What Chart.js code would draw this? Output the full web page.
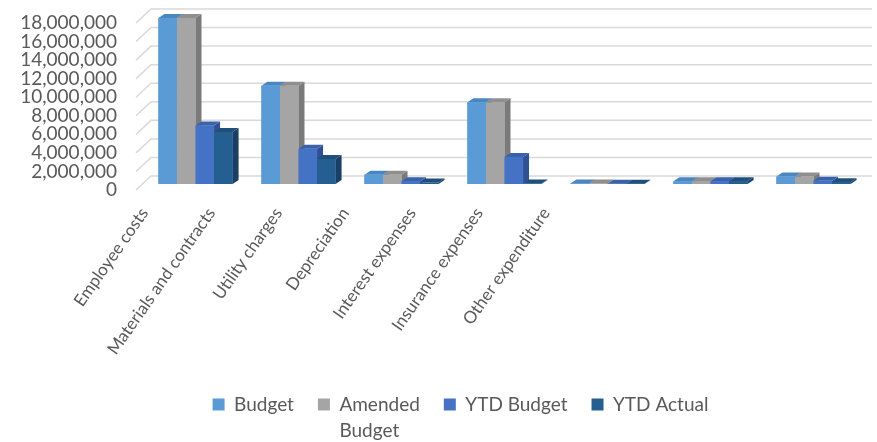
<!DOCTYPE html>
<html>
<head>
<meta charset="utf-8">
<script src="https://cdn.jsdelivr.net/npm/chart.js@4"></script>
<style>
html, body { margin: 0; padding: 0; background: #fff; }
#wrap { width: 877px; height: 442px; }
</style>
</head>
<body>
<div id="wrap"><canvas id="expenseChart"></canvas></div>
<script>
// Categories and series
var categories = ['Employee costs', 'Materials and contracts', 'Utility charges', 'Depreciation',
    'Interest expenses', 'Insurance expenses', 'Other expenditure'];
var seriesNames = ['Budget', 'Amended Budget', 'YTD Budget', 'YTD Actual'];
var legendWrap = { 'Amended Budget': ['Amended', 'Budget'] };
var budget = [17900000, 10600000, 1000000, 8800000, 60000, 300000, 800000];
var amendedBudget = [17900000, 10600000, 1000000, 8800000, 60000, 300000, 800000];
var ytdBudget = [6300000, 3800000, 300000, 2900000, 40000, 300000, 350000];
var ytdActual = [5600000, 2700000, 150000, 50000, 40000, 300000, 200000];
var yMax = 18000000;
var yStep = 2000000;

// front / top / side shades for the fake 3D look
var shades = [
    { front: '#5b9bd5', top: '#4a86c0', side: '#3f74a8' },
    { front: '#a5a5a5', top: '#8f8f8f', side: '#7a7a7a' },
    { front: '#4472c4', top: '#3a62aa', side: '#2f5194' },
    { front: '#255e91', top: '#1f4f7b', side: '#193f63' }
];
var depthX = 6, depthY = 4;
var textColor = '#595959';
var legendFontSize = 19;

Chart.defaults.font.family = 'Lato';

// back wall gridlines with the little diagonal on the left
var wallGrid = {
    id: 'wallGrid',
    beforeDatasetsDraw: function(chart) {
        var y = chart.scales.y, a = chart.chartArea, ctx = chart.ctx;
        ctx.save();
        ctx.strokeStyle = '#d9d9d9';
        ctx.lineWidth = 1.5;
        y.ticks.forEach(function(t) {
            var py = y.getPixelForValue(t.value);
            ctx.beginPath();
            ctx.moveTo(a.left - 8, py + 6);
            ctx.lineTo(a.left + 7, py - 8);
            ctx.lineTo(a.right + 7, py - 8);
            ctx.stroke();
        });
        ctx.restore();
    }
};

// draw top + side faces, then repaint the front so neighbours overlap right
var bars3d = {
    id: 'bars3d',
    afterDatasetsDraw: function(chart) {
        var ctx = chart.ctx;
        var metas = chart.getSortedVisibleDatasetMetas();
        ctx.save();
        for (var i = 0; i < categories.length; i++) {
            metas.forEach(function(meta) {
                var bar = meta.data[i];
                var c = shades[meta.index];
                var l = bar.x - bar.width / 2, r = bar.x + bar.width / 2;
                var t = bar.y, b = bar.base;
                ctx.fillStyle = c.side;
                ctx.beginPath();
                ctx.moveTo(r, t);
                ctx.lineTo(r + depthX, t - depthY);
                ctx.lineTo(r + depthX, b - depthY);
                ctx.lineTo(r, b);
                ctx.closePath();
                ctx.fill();
                ctx.fillStyle = c.top;
                ctx.beginPath();
                ctx.moveTo(l, t);
                ctx.lineTo(l + depthX, t - depthY);
                ctx.lineTo(r + depthX, t - depthY);
                ctx.lineTo(r, t);
                ctx.closePath();
                ctx.fill();
                ctx.fillStyle = c.front;
                ctx.fillRect(l, t, r - l, b - t);
            });
        }
        ctx.restore();
    }
};

// the category labels sit closer together than the bars (3D projection);
// the y labels may use the space left of the axis box
var squeezeLabels = {
    id: 'squeezeLabels',
    afterLayout: function(chart) {
        var s = chart.scales.x2, a = chart.chartArea;
        var w = (a.right - a.left) * 0.65;
        s.left = a.left - 33;
        s.right = s.left + w;
        s.width = w;
        s.configure();
        s._labelItems = null;
        chart.scales.y.left = 0;
        chart.scales.y._labelItems = null;
    }
};

// second line of a wrapped legend entry
var legendSecondLine = {
    id: 'legendSecondLine',
    afterDraw: function(chart) {
        var lg = chart.legend, ctx = chart.ctx;
        var opts = lg.options.labels;
        lg.legendItems.forEach(function(item, i) {
            if (!item.secondLine) return;
            var hb = lg.legendHitBoxes[i];
            ctx.save();
            ctx.fillStyle = textColor;
            ctx.font = legendFontSize + 'px Lato';
            ctx.textAlign = 'left';
            ctx.textBaseline = 'middle';
            ctx.fillText(item.secondLine, hb.left + opts.boxWidth + legendFontSize / 2,
                hb.top + hb.height / 2 + 26);
            ctx.restore();
        });
    }
};

var seriesData = [budget, amendedBudget, ytdBudget, ytdActual];
var datasets = seriesNames.map(function(name, k) {
    return {
        label: name,
        data: seriesData[k],
        backgroundColor: shades[k].front,
        borderWidth: 0,
        barPercentage: 1,
        categoryPercentage: 0.72
    };
});

var ctx = document.getElementById('expenseChart').getContext('2d');
var expenseChart = new Chart(ctx, {
    type: 'bar',
    data: { labels: categories, datasets: datasets },
    plugins: [wallGrid, bars3d, squeezeLabels, legendSecondLine],
    options: {
        responsive: true,
        maintainAspectRatio: false,
        animation: false,
        layout: { padding: { left: 56, right: 12, top: 17, bottom: 18 } },
        plugins: {
            tooltip: { enabled: false },
            legend: {
                position: 'bottom',
                labels: {
                    boxWidth: 12,
                    boxHeight: 12,
                    padding: 24,
                    color: textColor,
                    font: { size: legendFontSize },
                    generateLabels: function(chart) {
                        var items = Chart.defaults.plugins.legend.labels.generateLabels(chart);
                        items.forEach(function(it) {
                            var parts = legendWrap[it.text];
                            if (parts) {
                                it.text = parts[0];
                                it.secondLine = parts[1];
                            }
                            it.lineWidth = 0;
                        });
                        return items;
                    }
                }
            }
        },
        scales: {
            x: {
                ticks: { display: false },
                grid: { display: false },
                border: { display: false }
            },
            x2: {
                type: 'category',
                position: 'bottom',
                offset: true,
                grid: { display: false, drawTicks: false },
                border: { display: false },
                afterFit: function(s) {
                    s.paddingLeft = 0;
                    s.paddingRight = 0;
                    s.height = 179;
                },
                ticks: {
                    autoSkip: false,
                    minRotation: 55,
                    maxRotation: 55,
                    padding: 12,
                    color: textColor,
                    font: { size: 17 }
                }
            },
            y: {
                min: 0,
                max: yMax,
                grid: { display: false, drawTicks: false },
                border: { display: false },
                afterFit: function(s) {
                    s.paddingTop = 0;
                    s.paddingBottom = 0;
                    s.width = 88;
                },
                ticks: {
                    stepSize: yStep,
                    autoSkip: false,
                    padding: 27,
                    labelOffset: 6,
                    color: textColor,
                    font: { size: 19 },
                    callback: function(v) { return v.toLocaleString('en-US'); }
                }
            }
        }
    }
});
</script>
</body>
</html>
